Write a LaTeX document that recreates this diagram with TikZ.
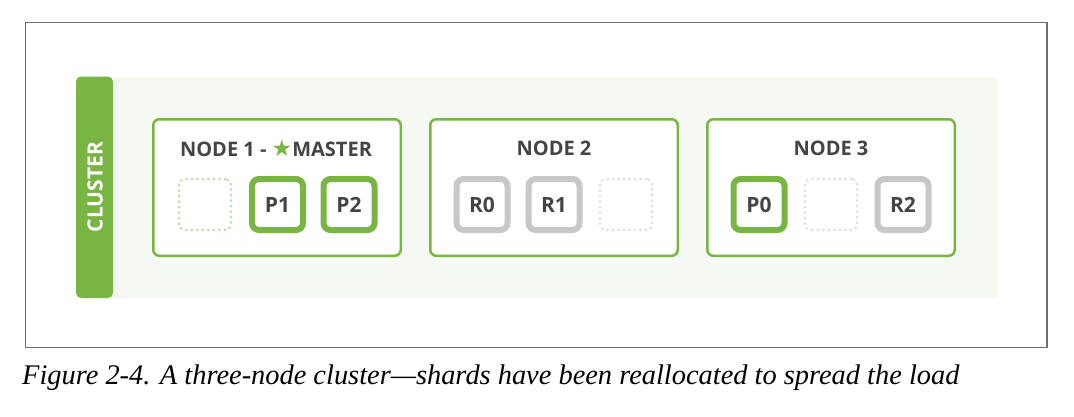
\documentclass[tikz,border=0pt]{standalone}
\usepackage{fontspec}
\setmainfont{Liberation Serif}
\newfontfamily\osans{Open Sans}
\newfontfamily\djv{DejaVu Sans}
\definecolor{ngreen}{RGB}{121,181,66}
\definecolor{lgreen}{RGB}{190,222,168}
\definecolor{sgray}{RGB}{200,200,200}
\definecolor{lgray}{RGB}{222,222,222}
\definecolor{tdark}{RGB}{68,68,68}
\definecolor{bgc}{RGB}{246,248,243}
\definecolor{framec}{RGB}{110,110,110}
\tikzset{
  nodebox/.style={draw=ngreen, line width=2.5pt, rounded corners=6pt, fill=white,
    minimum width=247.5pt, minimum height=136.5pt, inner sep=0pt},
  ntitle/.style={font=\osans\bfseries\fontsize{20}{20}\selectfont, text=tdark, inner sep=0pt},
  shardp/.style={draw=ngreen, line width=6pt, rounded corners=7pt, fill=white,
    minimum width=51pt, minimum height=51pt, inner sep=0pt,
    font=\osans\bfseries\fontsize{21}{21}\selectfont, text=tdark},
  shardr/.style={shardp, draw=sgray},
  emptyg/.style={draw=lgreen, line width=3pt, dash pattern=on 0pt off 5.5pt, line cap=round,
    rounded corners=6pt, minimum width=52pt, minimum height=51pt, inner sep=0pt},
  emptyw/.style={emptyg, draw=lgray},
}
\begin{document}
\begin{tikzpicture}[x=1pt,y=-1pt]
\useasboundingbox (0,0) rectangle (1074,416);
\fill[white] (0,0) rectangle (1074,416);
% outer frame
\draw[framec, line width=1.2pt] (25.5,22.5) rectangle (1047,347.5);
% cluster background
\fill[bgc] (113,76.5) rectangle (997,298);
\fill[ngreen, rounded corners=5pt] (113,76.5) -- (76,76.5) -- (76,298) -- (113,298) -- cycle;
\node[rotate=90, font=\osans\bfseries\fontsize{21}{21}\selectfont, text=white, inner sep=0pt] (clabel) at (95,187) {CLUSTER};
% node boxes
\node[nodebox] (n1) at (277,187.5) {};
\node[nodebox] (n2) at (554,187.5) {};
\node[nodebox] (n3) at (831,187.5) {};
% titles
\node[ntitle] (t1) at (276,148) {NODE 1 - {\djv\color{ngreen}\fontsize{23}{23}\selectfont★}MASTER};
\node[ntitle] (t2) at (554,148) {NODE 2};
\node[ntitle] (t3) at (831,148) {NODE 3};
% shards node 1
\node[emptyg] (e1) at (205,204.5) {};
\node[shardp] (p1) at (277.5,204.5) {P1};
\node[shardp] (p2) at (349,204.5) {P2};
% shards node 2
\node[shardr] (r0) at (482,204.5) {R0};
\node[shardr] (r1) at (554,204.5) {R1};
\node[emptyw] (e2) at (626,204.5) {};
% shards node 3
\node[shardp] (p0) at (759,204.5) {P0};
\node[emptyw] (e3) at (831,204.5) {};
\node[shardr] (r2) at (903,204.5) {R2};
% caption
\node[anchor=base west, inner sep=0pt, font=\itshape\fontsize{28.4}{28.4}\selectfont, text=black] (cap) at (22,384.5)
  {Figure 2-4. A three-node cluster—shards have been reallocated to spread the load};
\end{tikzpicture}
\end{document}
